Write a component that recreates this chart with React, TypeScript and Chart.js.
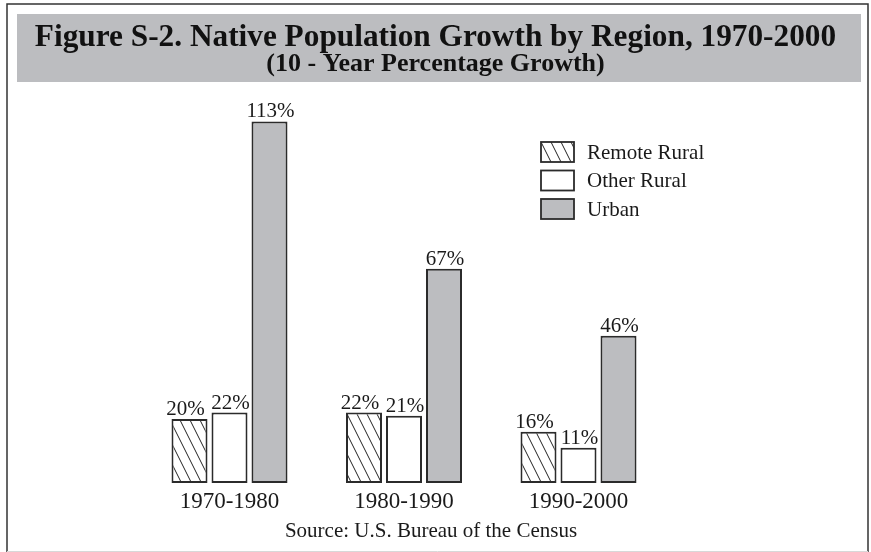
import React, { useEffect, useRef } from 'react';
import { Chart, registerables } from 'chart.js';

Chart.register(...registerables);

const TITLE = 'Figure S-2. Native Population Growth by Region, 1970-2000';
const SUBTITLE = '(10 - Year Percentage Growth)';
const SOURCE = 'Source: U.S. Bureau of the Census';

const categories = ['1970-1980', '1980-1990', '1990-2000'];
const seriesLabels = ['Remote Rural', 'Other Rural', 'Urban'];
const remoteRural = [20, 22, 16];
const otherRural = [22, 21, 11];
const urban = [113, 67, 46];

const SERIF = '"Liberation Serif", "Times New Roman", Times, serif';
const INK = '#1a1a1a';
const EDGE = '#2b2b2b';
const GRAY = '#bcbdc0';

function makeHatch(ctx: CanvasRenderingContext2D): CanvasPattern | string {
  const c = document.createElement('canvas');
  c.width = 10;
  c.height = 20;
  const g = c.getContext('2d');
  if (!g) return '#fff';
  g.fillStyle = '#fff';
  g.fillRect(0, 0, 10, 20);
  g.strokeStyle = '#222';
  g.lineWidth = 1;
  g.beginPath();
  for (const x0 of [-10, 0, 10]) {
    g.moveTo(x0, 0);
    g.lineTo(x0 + 10, 20);
  }
  g.stroke();
  return ctx.createPattern(c, 'repeat') || '#fff';
}

const framePlugin = {
  id: 'frame',
  beforeDraw(chart: any) {
    const { ctx, width, height } = chart;
    ctx.save();
    ctx.fillStyle = '#fff';
    ctx.fillRect(0, 0, width, height);
    ctx.fillStyle = GRAY;
    ctx.fillRect(17, 14, 844, 68);
    ctx.strokeStyle = '#333';
    ctx.lineWidth = 1.5;
    ctx.beginPath();
    ctx.moveTo(7, height);
    ctx.lineTo(7, 4);
    ctx.lineTo(868, 4);
    ctx.lineTo(868, height);
    ctx.stroke();
    ctx.strokeStyle = '#d8d8d8';
    ctx.lineWidth = 1;
    ctx.beginPath();
    ctx.moveTo(7, height - 0.5);
    ctx.lineTo(868, height - 0.5);
    ctx.stroke();
    ctx.restore();
  },
};

const valueLabelPlugin = {
  id: 'valueLabels',
  afterDatasetsDraw(chart: any) {
    const { ctx } = chart;
    const shift = [-4, 1, 1];
    ctx.save();
    ctx.font = `21px ${SERIF}`;
    ctx.fillStyle = INK;
    ctx.textAlign = 'center';
    ctx.textBaseline = 'alphabetic';
    chart.data.datasets.forEach((ds: any, i: number) => {
      const meta = chart.getDatasetMeta(i);
      meta.data.forEach((bar: any, j: number) => {
        ctx.fillText(`${ds.data[j]}%`, bar.x + shift[i], bar.y - 4);
      });
    });
    ctx.restore();
  },
};

const legendPlugin = {
  id: 'boxLegend',
  afterDraw(chart: any) {
    const { ctx } = chart;
    ctx.save();
    chart.data.datasets.forEach((ds: any, i: number) => {
      const top = 142 + i * 28.5;
      ctx.fillStyle = ds.backgroundColor;
      ctx.fillRect(541, top, 33, 20);
      ctx.strokeStyle = EDGE;
      ctx.lineWidth = 1.8;
      ctx.strokeRect(541, top, 33, 20);
      ctx.font = `21px ${SERIF}`;
      ctx.fillStyle = INK;
      ctx.textAlign = 'left';
      ctx.textBaseline = 'middle';
      ctx.fillText(ds.label, 587, top + 11);
    });
    ctx.restore();
  },
};

const sourcePlugin = {
  id: 'sourceNote',
  afterDraw(chart: any) {
    const { ctx } = chart;
    ctx.save();
    ctx.font = `21px ${SERIF}`;
    ctx.fillStyle = INK;
    ctx.textAlign = 'center';
    ctx.textBaseline = 'alphabetic';
    ctx.fillText(SOURCE, 431, 537);
    ctx.restore();
  },
};

export default function App() {
  const canvasRef = useRef<HTMLCanvasElement | null>(null);

  useEffect(() => {
    const canvas = canvasRef.current;
    if (!canvas) return;
    const ctx = canvas.getContext('2d');
    if (!ctx) return;
    const hatch = makeHatch(ctx);

    const common = {
      borderColor: EDGE,
      borderWidth: 2,
      borderSkipped: false,
    };

    const chart = new Chart(ctx, {
      type: 'bar',
      data: {
        labels: categories,
        datasets: [
          { label: seriesLabels[0], data: remoteRural, backgroundColor: hatch, ...common },
          { label: seriesLabels[1], data: otherRural, backgroundColor: '#ffffff', ...common },
          { label: seriesLabels[2], data: urban, backgroundColor: GRAY, ...common },
        ],
      } as any,
      options: {
        responsive: false,
        animation: false,
        devicePixelRatio: 1,
        layout: { padding: { top: 0, left: 0, right: 0, bottom: 31 } },
        datasets: {
          bar: { categoryPercentage: 120 / 174.5, barPercentage: 0.9 },
        },
        plugins: {
          legend: { display: false },
          tooltip: { enabled: false },
          title: {
            display: true,
            text: TITLE,
            color: '#111',
            font: { family: SERIF, size: 31.3, weight: 'bold', lineHeight: 0.9 },
            padding: { top: 23.4, bottom: 0 },
          },
          subtitle: {
            display: true,
            text: SUBTITLE,
            color: '#111',
            font: { family: SERIF, size: 26, weight: 'bold', lineHeight: 1 },
            padding: { top: 0, bottom: 5.5 },
          },
        },
        scales: {
          x: {
            grid: { display: false, drawTicks: false },
            border: { display: false },
            ticks: {
              color: INK,
              font: { family: SERIF, size: 23, lineHeight: 1 },
              padding: 7.5,
            },
          },
          y: {
            min: 0,
            max: 125,
            grid: { display: false, drawTicks: false },
            border: { display: false },
            ticks: { display: false },
            afterFit: (s: any) => {
              s.width = 142.25;
            },
          },
          y2: {
            type: 'linear',
            position: 'right',
            grid: { display: false, drawTicks: false },
            border: { display: false },
            ticks: { display: false },
            afterFit: (s: any) => {
              s.width = 205.25;
            },
          },
        },
      } as any,
      plugins: [framePlugin, valueLabelPlugin, legendPlugin, sourcePlugin],
    });

    return () => chart.destroy();
  }, []);

  return (
    <div style={{ position: 'absolute', left: 0, top: 0, width: 871, height: 552, background: '#fff' }}>
      <canvas ref={canvasRef} width={871} height={552} style={{ display: 'block' }} />
    </div>
  );
}
